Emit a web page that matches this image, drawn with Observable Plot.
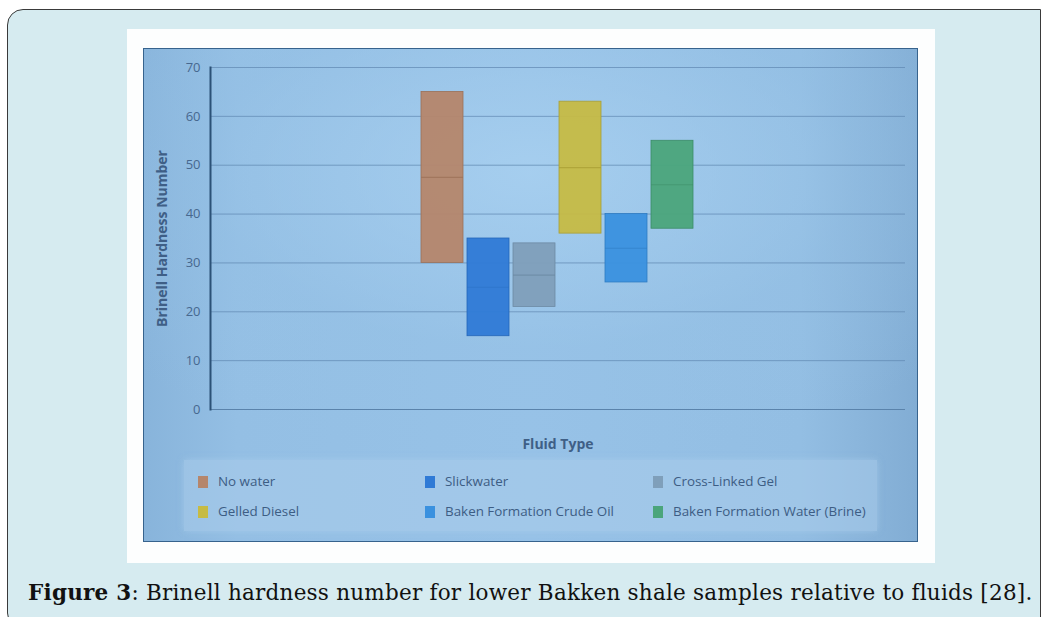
<!DOCTYPE html>
<html>
<head>
<meta charset="utf-8">
<script src="https://cdn.jsdelivr.net/npm/d3@7"></script>
<script src="https://cdn.jsdelivr.net/npm/@observablehq/plot@0.6"></script>
<style>
  html, body { margin: 0; padding: 0; background: #ffffff; }
  body { width: 1043px; height: 617px; position: relative; overflow: hidden; font-family: "Open Sans", sans-serif; }
  #panel { position: absolute; left: 7px; top: 9px; width: 1034px; height: 620px; background: #d6ebf0;
           border: 1.5px solid #3a3a3a; border-radius: 16px 0 0 16px; box-sizing: border-box; }
  #white { position: absolute; left: 127px; top: 29px; width: 808px; height: 534px; background: #fdfefe; }
  #blue { position: absolute; left: 143px; top: 48px; width: 775px; height: 494px; box-sizing: border-box;
          border: 1.5px solid #37638d;
          background:
            radial-gradient(ellipse 70% 60% at 50% 25%, rgba(168,208,240,0.85) 0%, rgba(150,194,230,0.35) 60%, rgba(150,194,230,0) 100%),
            linear-gradient(to right, #88b4db 0%, #94bfe4 12%, #97c2e7 50%, #93bee3 85%, #82add4 100%); }
  #chart { position: absolute; left: 143px; top: 48px; }
  #legendbox { position: absolute; left: 184px; top: 460px; width: 693px; height: 71px;
               background: rgba(172,206,236,0.5); box-shadow: 0 0 6px rgba(172,206,236,0.6); }
  .lg { position: absolute; font-family: "Open Sans", sans-serif; font-size: 13.4px; color: #3d5d84; white-space: nowrap; line-height: 16px; }
  .sw { position: absolute; width: 10px; height: 12px; }
  #caption { position: absolute; left: 28px; top: 580px; font-family: "DejaVu Serif", serif; font-size: 21.5px; color: #111; white-space: nowrap; line-height: 26px; }
</style>
</head>
<body>
<div id="panel"></div>
<div id="white"></div>
<div id="blue"></div>
<div id="legendbox"></div>
<div id="chart"></div>
<div id="legend"></div>
<div id="caption"><b>Figure 3</b>: Brinell hardness number for lower Bakken shale samples relative to fluids [28].</div>
<script>
// ---- data ----
const series = ["No water", "Slickwater", "Cross-Linked Gel", "Gelled Diesel", "Baken Formation Crude Oil", "Baken Formation Water (Brine)"];
const lowValues = [30, 15, 21, 36, 26, 37];
const highValues = [65, 35, 34, 63, 40, 55];
const medianValues = [47.5, 25, 27.5, 49.5, 33, 46];
const seriesColors = ["#b5866c", "#2f7ad6", "#7f9fba", "#c6bb44", "#3a91df", "#4ba57b"];
const edgeColors = ["#9c7058", "#2566b8", "#6c8aa3", "#a99f34", "#2e7cc2", "#3b8c66"];
const medianOpacity = [0.75, 0.25, 0.75, 0.75, 0.6, 0.5];
const yTicks = [0, 10, 20, 30, 40, 50, 60, 70];
const gridTicks = [10, 20, 30, 40, 50, 60, 70];
const yLabel = "Brinell Hardness Number";
const xLabel = "Fluid Type";

const rows = series.map((name, i) => ({name, low: lowValues[i], high: highValues[i], median: medianValues[i], edge: edgeColors[i], mo: medianOpacity[i]}));

const plot = Plot.plot({
  width: 775,
  height: 494,
  marginLeft: 67,
  marginRight: 13,
  marginTop: 19,
  marginBottom: 133,
  style: {background: "transparent", fontFamily: "Open Sans, sans-serif", color: "#47688f", overflow: "visible"},
  x: {type: "band", domain: series, range: [275, 553], paddingInner: 0.08, paddingOuter: 0, axis: null},
  y: {domain: [0, 70], axis: null},
  color: {domain: series, range: seriesColors},
  marks: [
    Plot.ruleY(gridTicks, {stroke: "#5f88b0", strokeOpacity: 0.7, strokeWidth: 1}),
    Plot.ruleY([0], {stroke: "#5a83ab", strokeWidth: 1.2}),
    Plot.barY(rows, {x: "name", y1: "low", y2: "high", fill: "name", stroke: "edge", strokeWidth: 0.8, fillOpacity: 0.95}),
    Plot.tickY(rows, {x: "name", y: "median", stroke: "edge", strokeWidth: 1.2, strokeOpacity: "mo"}),
    Plot.axisY({ticks: yTicks, tickSize: 0, tickPadding: 10, fontSize: 13, label: null, color: "#47688f"}),
    Plot.frame({anchor: "left", stroke: "#2b5176", strokeWidth: 2}),
    Plot.text([yLabel], {frameAnchor: "left", textAnchor: "middle", rotate: -90, dx: -48, fontWeight: "bold", fontSize: 14, fill: "#3f5f86"}),
    Plot.text([xLabel], {frameAnchor: "bottom", dy: 35, lineAnchor: "middle", fontWeight: "bold", fontSize: 14, fill: "#3f5f86"})
  ]
});
document.getElementById("chart").appendChild(plot);

// ---- legend (HTML, built from the arrays) ----
const legend = document.getElementById("legend");
const colX = [198, 425, 653];
const rowY = [482, 512];
series.forEach((name, i) => {
  const cx = colX[i % 3], cy = rowY[Math.floor(i / 3)];
  const sw = document.createElement("div");
  sw.className = "sw";
  sw.style.left = cx + "px"; sw.style.top = (cy - 6) + "px"; sw.style.background = seriesColors[i];
  legend.appendChild(sw);
  const t = document.createElement("div");
  t.className = "lg";
  t.style.left = (cx + 20) + "px"; t.style.top = (cy - 9) + "px";
  t.textContent = name;
  legend.appendChild(t);
});

// fit caption to reference width
const cap = document.getElementById("caption");
const w = cap.getBoundingClientRect().width;
const target = 1004;
const n = cap.textContent.length;
cap.style.letterSpacing = ((target - w) / n) + "px";
</script>
</body>
</html>
